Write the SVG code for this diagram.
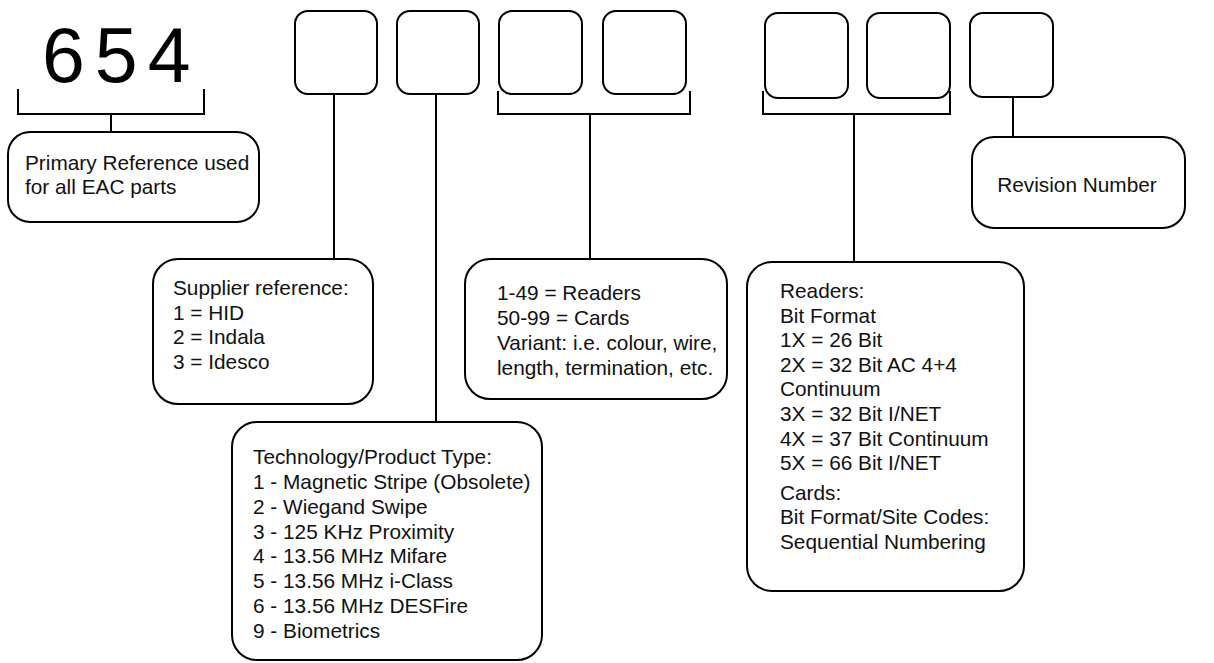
<svg xmlns="http://www.w3.org/2000/svg" width="1214" height="663" viewBox="0 0 1214 663">
<style>
.box{fill:#fff;stroke:#000;stroke-width:2}
.ln{fill:none;stroke:#000;stroke-width:2}
text{font-family:"Liberation Sans",Arial,sans-serif;font-size:20.8px;fill:#111}
</style>
<rect width="1214" height="663" fill="#fff"/>
<g id="connectors">
<path class="ln" d="M18,89 V114 H204 V89 M111,114 V132"/>
<path class="ln" d="M334,94 V259"/>
<path class="ln" d="M436,94 V422"/>
<path class="ln" d="M498,91 V114 H690 V91 M590,114 V259"/>
<path class="ln" d="M763,91 V114 H950 V91 M854,114 V262"/>
<path class="ln" d="M1013,97 V137"/>
</g>
<g id="code654"><text x="42" y="82" style="font-size:77px;letter-spacing:10px;fill:#000">654</text></g>
<g id="slot1"><rect class="box" x="295" y="11" width="82" height="83" rx="13"/></g>
<g id="slot2"><rect class="box" x="397" y="11" width="82" height="83" rx="13"/></g>
<g id="slot3"><rect class="box" x="499" y="11" width="83" height="83" rx="13"/></g>
<g id="slot4"><rect class="box" x="603" y="11" width="83" height="83" rx="13"/></g>
<g id="slot5"><rect class="box" x="765" y="13" width="83" height="85" rx="13"/></g>
<g id="slot6"><rect class="box" x="867" y="13" width="83" height="85" rx="13"/></g>
<g id="slot7"><rect class="box" x="970" y="13" width="83" height="84" rx="13"/></g>
<g id="primary">
<rect class="box" x="8" y="132" width="251" height="90" rx="22"/>
<text x="25" y="170">Primary Reference used</text>
<text x="25" y="194">for all EAC parts</text>
</g>
<g id="revision">
<rect class="box" x="972" y="137" width="213" height="91" rx="22"/>
<text x="1077" y="192" text-anchor="middle">Revision Number</text>
</g>
<g id="supplier">
<rect class="box" x="153" y="259" width="220" height="145" rx="25"/>
<text x="173" y="295">Supplier reference:</text>
<text x="173" y="320">1 = HID</text>
<text x="173" y="344">2 = Indala</text>
<text x="173" y="369">3 = Idesco</text>
</g>
<g id="variant">
<rect class="box" x="465" y="259" width="262" height="140" rx="25"/>
<text x="497" y="300">1-49 = Readers</text>
<text x="497" y="325">50-99 = Cards</text>
<text x="497" y="350">Variant: i.e. colour, wire,</text>
<text x="497" y="375">length, termination, etc.</text>
</g>
<g id="technology">
<rect class="box" x="232" y="422" width="310" height="238" rx="25"/>
<text x="253" y="464">Technology/Product Type:</text>
<text x="253" y="489">1 - Magnetic Stripe (Obsolete)</text>
<text x="253" y="514">2 - Wiegand Swipe</text>
<text x="253" y="539">3 - 125 KHz Proximity</text>
<text x="253" y="563">4 - 13.56 MHz Mifare</text>
<text x="253" y="588">5 - 13.56 MHz i-Class</text>
<text x="253" y="613">6 - 13.56 MHz DESFire</text>
<text x="253" y="638">9 - Biometrics</text>
</g>
<g id="bitformat">
<rect class="box" x="747" y="262" width="277" height="329" rx="25"/>
<text x="780" y="298">Readers:</text>
<text x="780" y="323">Bit Format</text>
<text x="780" y="347">1X = 26 Bit</text>
<text x="780" y="372">2X = 32 Bit AC 4+4</text>
<text x="780" y="396">Continuum</text>
<text x="780" y="421">3X = 32 Bit I/NET</text>
<text x="780" y="446">4X = 37 Bit Continuum</text>
<text x="780" y="470">5X = 66 Bit I/NET</text>
<text x="780" y="500">Cards:</text>
<text x="780" y="524">Bit Format/Site Codes:</text>
<text x="780" y="549">Sequential Numbering</text>
</g>
</svg>
